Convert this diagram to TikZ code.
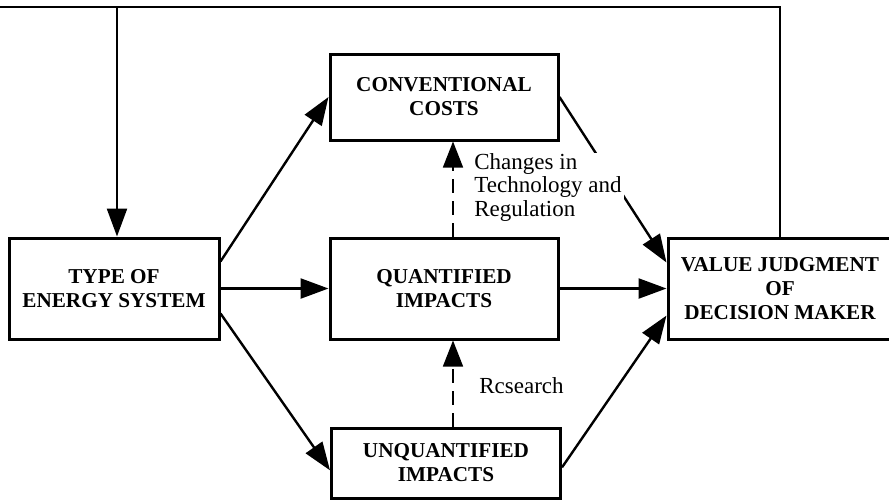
\documentclass[tikz,border=0pt]{standalone}
\usepackage{fontspec}
\setmainfont{Liberation Serif}
\usetikzlibrary{arrows.meta,calc}
\begin{document}
\begin{tikzpicture}[x=0.5pt,y=-0.5pt,
	box/.style={draw,line width=1.5pt,align=center,inner sep=0pt,font=\fontsize{10.6}{12}\selectfont\bfseries},
	flow/.style={line width=1.2pt,-{Triangle[length=14pt,width=10pt]}},
	hint/.style={line width=0.8pt,dash pattern=on 7pt off 4pt,-{Triangle[length=13pt,width=10pt]}},
	note/.style={align=left,inner sep=0pt,font=\fontsize{11.5}{11.8}\selectfont}]
	\useasboundingbox (0,0) rectangle (889,500);
	\node[box,minimum width=105pt,minimum height=50.5pt] (type) at (114,288.5) {TYPE OF\\ENERGY SYSTEM};
	\node[box,minimum width=114pt,minimum height=43pt] (conv) at (444,97) {CONVENTIONAL\\COSTS};
	\node[box,minimum width=114pt,minimum height=50.5pt] (quant) at (444,288.5) {QUANTIFIED\\IMPACTS};
	\node[box,minimum width=114.5pt,minimum height=35pt] (unq) at (446,463) {UNQUANTIFIED\\IMPACTS};
	\node[box,minimum width=112pt,minimum height=50.5pt] (value) at (780,288.5) {VALUE JUDGMENT\\OF\\DECISION MAKER};
	\coordinate (top) at (0,7);
	% solid flows
	\draw[flow] ($(type.north east)!0.24!(type.south east)$) -- (conv.west);
	\draw[flow] (type.east) -- (quant.west);
	\draw[flow] ($(type.north east)!0.74!(type.south east)$) -- ($(unq.north west)!0.6!(unq.south west)$);
	\draw[flow] (conv.east) -- ($(value.north west)!0.25!(value.south west)$);
	\draw[flow] (quant.east) -- (value.west);
	\draw[flow] ($(unq.north east)!0.56!(unq.south east)$) -- ($(value.north west)!0.76!(value.south west)$);
	% dashed links
	\draw[hint] ($(quant.north)+(9,0)$) -- ($(conv.south)+(9,0)$);
	\draw[hint] ($(unq.north)+(7,0)$) -- ($(quant.south)+(9,0)$);
	% feedback
	\draw[flow] (value.north) |- (top) -| ($(type.north)+(3,0)$);
	% labels over the lines
	\node[note,anchor=north west,fill=white,inner xsep=1pt,inner ysep=0pt] (change) at (472,153) {Changes in\\Technology and\\Regulation};
	\node[note,anchor=west] (research) at (479,386) {Rcsearch};
\end{tikzpicture}
\end{document}
